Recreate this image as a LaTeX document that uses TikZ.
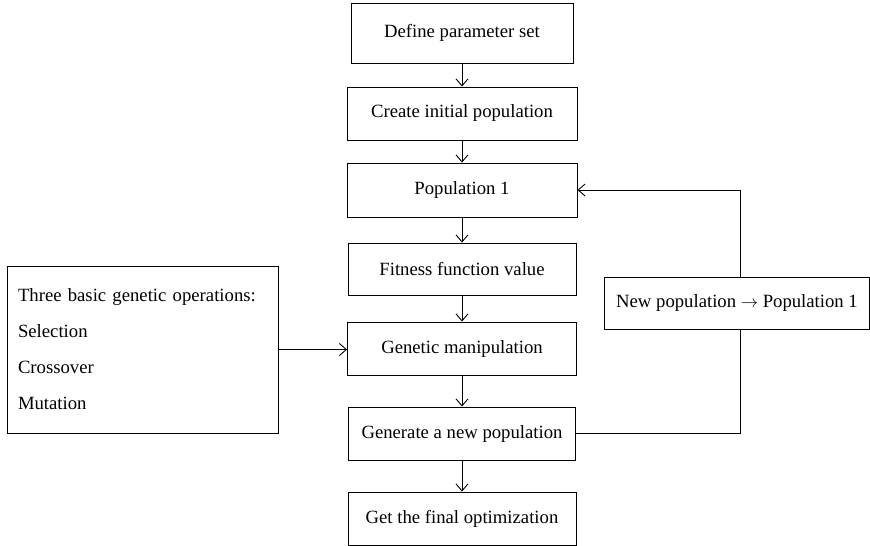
\documentclass[tikz,border=0pt]{standalone}
\usepackage{fontspec}
\setmainfont{Liberation Serif}
\usetikzlibrary{arrows.meta,positioning,calc}

\begin{document}
\begin{tikzpicture}[x=1pt, y=-1pt, line width=0.9pt,
  font=\fontsize{18.7}{22}\selectfont,
  stage/.style={draw, rectangle, fill=white, minimum width=#1, minimum height=53, inner sep=0},
  flow/.style={-{Straight Barb[length=7pt, width=12pt]}}]
\useasboundingbox (0,0) rectangle (870,546);
% ---------------- main column ----------------
\node[stage=222, minimum height=60] (define) at (462,33) {Define parameter set};
\node[stage=230] (create) at (462,113.5) {Create initial population};
\node[stage=230, minimum height=54] (pop) at (462,190) {Population 1};
\node[stage=228, minimum height=52] (fit) at (462,269) {Fitness function value};
\node[stage=229] (gm) at (462,348.5) {Genetic manipulation};
\node[stage=227] (gen) at (462,433.5) {Generate a new population};
\node[stage=228] (final) at (462,518.5) {Get the final optimization};
\draw[flow] (define) -- (create);
\draw[flow] (create) -- (pop);
\draw[flow] (pop) -- (fit);
\draw[flow] (fit) -- (gm);
\draw[flow] (gm) -- (gen);
\draw[flow] (gen) -- (final);
% ---------------- operators (left) ----------------
\node[draw, rectangle, minimum height=167, text width=249, inner xsep=11, inner ysep=0,
  align=left, font=\fontsize{18.7}{36}\selectfont] (ops) at (142.5,349.5)
  {Three basic genetic operations:\\ Selection\\ Crossover\\ Mutation};
\draw[flow] (ops.east) -- (ops.east -| gm.west);
% ---------------- loop back (right) ----------------
\coordinate (turn) at (740,190);
\draw[flow] (gen.east) -| (turn) -- (pop.east);
\node[stage=265, minimum height=52] (renew) at (737,303) {New population $\rightarrow$ Population 1};
\end{tikzpicture}
\end{document}
